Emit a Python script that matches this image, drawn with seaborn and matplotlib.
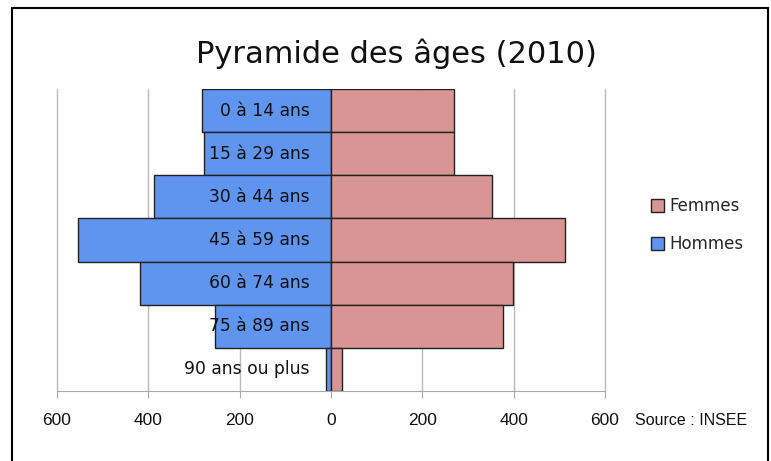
import pandas as pd
import matplotlib.pyplot as plt
import matplotlib.patches as mpatches
from matplotlib.ticker import FuncFormatter
import seaborn as sns

ages = ['0 à 14 ans', '15 à 29 ans', '30 à 44 ans', '45 à 59 ans',
        '60 à 74 ans', '75 à 89 ans', '90 ans ou plus']
hommes = [282, 278, 388, 555, 418, 253, 12]
femmes = [269, 269, 352, 512, 398, 377, 23]
ticks = [-600, -400, -200, 0, 200, 400, 600]

blue = '#5F95EE'
pink = '#D99594'

df = pd.DataFrame({
    'age': ages * 2,
    'valeur': [-h for h in hommes] + femmes,
    'sexe': ['Hommes'] * len(ages) + ['Femmes'] * len(ages),
})

sns.set_style('white')
plt.rcParams['font.family'] = ['DejaVu Sans']

fig = plt.figure(figsize=(7.71, 4.61), dpi=100)
ax = fig.add_axes([57 / 771, 1 - 391 / 461, 548 / 771, 302 / 461])

sns.barplot(data=df, y='age', x='valeur', hue='sexe', order=ages,
            hue_order=['Hommes', 'Femmes'], palette={'Hommes': blue, 'Femmes': pink},
            saturation=1, dodge=False, width=1.0, orient='h', edgecolor='#222222',
            linewidth=1, legend=False, ax=ax, zorder=3)

ax.set_xlim(-600, 600)
ax.set_ylim(len(ages) - 0.5, -0.5)
ax.set_xticks(ticks)
ax.xaxis.set_major_formatter(FuncFormatter(lambda v, p: f'{abs(int(v))}'))
ax.grid(axis='x', color='#BBBBBB', linewidth=1, zorder=0)
ax.set_axisbelow(True)
for gl in ax.get_xgridlines():
    gl.set_clip_on(False)
for s in ['top', 'left', 'right']:
    ax.spines[s].set_visible(False)
ax.spines['bottom'].set_color('#AAAAAA')
ax.tick_params(axis='x', bottom=True, length=5, color='#AAAAAA', pad=11,
               labelsize=12.5, labelfontfamily='Liberation Sans', labelcolor='#111111')
ax.set_yticks([])
ax.set_xlabel('')
ax.set_ylabel('')

for i, a in enumerate(ages):
    ax.text(-46, i, a, ha='right', va='center', fontsize=12.3, color='#111111', zorder=5)

fig.text(396 / 771, 1 - 54 / 461, 'Pyramide des âges (2010)', ha='center', va='center',
         fontsize=22, color='#111111')
fig.text(635 / 771, 1 - 420 / 461, 'Source : INSEE', ha='left', va='center',
         fontsize=11.5, family='Liberation Sans', color='#111111')

handles = [mpatches.Patch(facecolor=pink, edgecolor='#222222', label='Femmes'),
           mpatches.Patch(facecolor=blue, edgecolor='#222222', label='Hommes')]
fig.legend(handles=handles, loc='center left', bbox_to_anchor=(636 / 771, 1 - 225 / 461),
           frameon=False, fontsize=12, handlelength=0.8, handleheight=0.8,
           handletextpad=0.3, labelspacing=1.2)

fig.patches.append(mpatches.Rectangle((12 / 771, -0.1), (768 - 12) / 771, 1 - 8 / 461 + 0.1,
                                      transform=fig.transFigure, fill=False,
                                      edgecolor='black', linewidth=1.5))

plt.savefig('out.png', dpi=100)
